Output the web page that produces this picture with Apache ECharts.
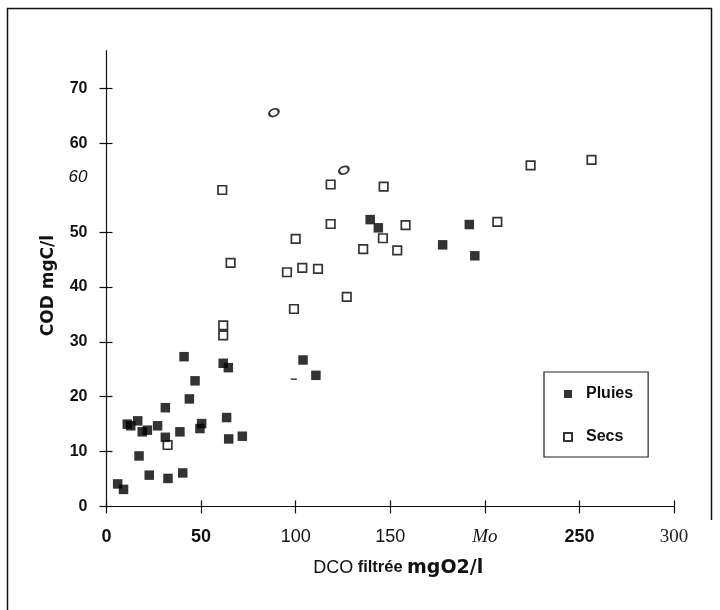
<!DOCTYPE html>
<html>
<head>
<meta charset="utf-8">
<title>COD / DCO filtrée</title>
<script src="https://cdn.jsdelivr.net/npm/echarts@6/dist/echarts.min.js"></script>
<style>
  html, body { margin: 0; padding: 0; background: #fff; }
  #chart { width: 720px; height: 610px; }
</style>
</head>
<body>
<div id="chart"></div>
<script>
// Rain-event samples (Pluies): [DCO filtrée mgO2/l, COD mgC/l]
const pluies = [
  [41.0, 27.3], [46.8, 22.9], [43.8, 19.6], [31.1, 18.0], [11.0, 15.0],
  [12.8, 14.7], [16.5, 15.6], [18.9, 13.6], [21.6, 13.9], [27.0, 14.7],
  [31.1, 12.6], [38.8, 13.6], [49.4, 14.2], [50.3, 15.1], [61.7, 26.1],
  [64.4, 25.3], [63.5, 16.2], [64.6, 12.3], [71.8, 12.8], [17.2, 9.2],
  [22.6, 5.7], [32.5, 5.1], [40.3, 6.1], [5.9, 4.1], [9.0, 3.1],
  [103.9, 26.7], [110.7, 23.9], [139.4, 52.3], [143.7, 50.8],
  [177.7, 47.7], [191.8, 51.4], [194.7, 45.7]
];

// Dry-weather samples (Secs)
const secs = [
  [32.3, 11.2], [61.7, 31.2], [61.7, 33.0], [65.6, 44.4], [61.2, 57.7],
  [118.5, 58.7], [146.5, 58.3], [118.5, 51.5], [158.1, 51.3], [146.1, 48.9],
  [100.0, 48.8], [135.7, 46.9], [153.7, 46.7], [95.4, 42.7], [103.5, 43.5],
  [111.8, 43.3], [127.0, 38.2], [99.1, 36.0], [224.2, 62.2], [256.4, 63.2],
  [206.6, 51.9]
];

// Dry-weather samples printed with a round mark
const secsRound = [[88.5, 71.8], [125.5, 61.3]];

// Stray dash mark
const dashMark = [[99.0, 23.2]];

// Axis ticks and their printed labels
const xTickLabels = ['0', '50', '100', '150', 'Mo', '250', '300'];
const xLabelStyle = ['b', 'b', 'r', 'r', 'it', 'b', 'serif'];
const yTickValues = [0, 10, 20, 30, 40, 50, 66.2, 76.2];
const yTickLabels = ['0', '10', '20', '30', '40', '50', '60', '70'];
const yExtraValue = 60;
const yExtraLabel = '60';

const ink = '#111';

const gridBox = { left: 106.5, right: 46, top: 50.7, bottom: 103.6 };
const gridW = 720 - gridBox.left - gridBox.right;
const gridH = 610 - gridBox.top - gridBox.bottom;

function yLabelFor(v) {
  if (Math.abs(v - yExtraValue) < 1e-6) return '{it|' + yExtraLabel + '}';
  for (let i = 0; i < yTickValues.length; i++) {
    if (Math.abs(v - yTickValues[i]) < 1e-6) return '{b|' + yTickLabels[i] + '}';
  }
  return '';
}

function xLabelFor(v) {
  const i = Math.round(v / 50);
  if (i < 0 || i >= xTickLabels.length) return '';
  return '{' + xLabelStyle[i] + '|' + xTickLabels[i] + '}';
}

const chart = echarts.init(document.getElementById('chart'), null, { renderer: 'canvas' });

const yLabelValues = yTickValues.slice(0, 6).concat([yExtraValue], yTickValues.slice(6));

// The second x / y axis sits on the same line from the opposite side,
// so together the ticks form small crosses.
const option = {
  animation: false,
  backgroundColor: '#fff',
  grid: Object.assign({ containLabel: false }, gridBox),
  legend: {
    orient: 'vertical',
    left: 544,
    top: 372,
    data: ['Pluies', 'Secs'],
    itemWidth: 8,
    itemHeight: 8,
    itemGap: 27,
    padding: [14, 15, 12, 19],
    borderColor: '#222',
    borderWidth: 1.2,
    textStyle: {
      fontFamily: 'Liberation Sans',
      fontSize: 16,
      fontWeight: 'bold',
      color: ink,
      lineHeight: 16,
      padding: [0, 0, 0, 9]
    }
  },
  xAxis: [
    {
      type: 'value',
      min: 0,
      max: 300,
      interval: 50,
      position: 'bottom',
      name: '{a|DCO} {b|filtrée} {c|mgO2/l}',
      nameLocation: 'middle',
      nameGap: 52,
      nameTextStyle: {
        padding: [0, 0, 0, 16],
        fontSize: 16,
        color: ink,
        rich: {
          a: { fontFamily: 'Liberation Sans', fontSize: 18, color: ink },
          b: { fontFamily: 'Liberation Sans', fontSize: 16.5, fontWeight: 'bold', color: ink },
          c: { fontFamily: 'DejaVu Sans', fontSize: 19, fontWeight: 'bold', color: ink }
        }
      },
      axisLine: { show: true, onZero: false, lineStyle: { color: ink, width: 1.2 } },
      axisTick: { show: true, length: 7, lineStyle: { color: ink, width: 1.2 } },
      splitLine: { show: false },
      axisLabel: {
        margin: 22,
        formatter: xLabelFor,
        rich: {
          b: { fontFamily: 'Liberation Sans', fontSize: 18, fontWeight: 'bold', color: ink, lineHeight: 18 },
          r: { fontFamily: 'Liberation Sans', fontSize: 18, color: ink, lineHeight: 18 },
          it: { fontFamily: 'Liberation Serif', fontSize: 19, fontStyle: 'italic', color: ink, lineHeight: 18 },
          serif: { fontFamily: 'Liberation Serif', fontSize: 19, color: '#222', lineHeight: 18 }
        }
      }
    },
    {
      type: 'value',
      min: 0,
      max: 300,
      interval: 50,
      position: 'top',
      offset: -gridH,
      axisLine: { show: false, onZero: false },
      axisTick: { show: true, length: 6, lineStyle: { color: ink, width: 1.2 } },
      axisLabel: { show: false },
      splitLine: { show: false }
    }
  ],
  yAxis: [
    {
      type: 'value',
      min: 0,
      max: 83.1,
      position: 'left',
      name: 'COD mgC/l',
      nameLocation: 'middle',
      nameRotate: 90,
      nameGap: 49,
      nameTextStyle: {
        fontFamily: 'DejaVu Sans',
        fontWeight: 'bold',
        fontSize: 17,
        color: ink,
        padding: [0, 14, 0, 0]
      },
      axisLine: { show: true, onZero: false, lineStyle: { color: ink, width: 1.2 } },
      axisTick: {
        show: true,
        length: 7,
        customValues: yTickValues,
        lineStyle: { color: ink, width: 1.2 }
      },
      splitLine: { show: false },
      axisLabel: {
        margin: 19,
        customValues: yLabelValues,
        formatter: yLabelFor,
        rich: {
          b: { fontFamily: 'Liberation Sans', fontSize: 16, fontWeight: 'bold', color: ink },
          it: { fontFamily: 'Liberation Sans', fontSize: 17, fontStyle: 'italic', color: ink }
        }
      }
    },
    {
      type: 'value',
      min: 0,
      max: 83.1,
      position: 'right',
      offset: -gridW,
      axisLine: { show: false, onZero: false },
      axisTick: {
        show: true,
        length: 6,
        customValues: yTickValues,
        lineStyle: { color: ink, width: 1.2 }
      },
      axisLabel: { show: false },
      splitLine: { show: false }
    }
  ],
  graphic: [
    {
      type: 'polyline',
      silent: true,
      shape: { points: [[7.5, 610], [7.5, 8.5], [711.5, 8.5], [711.5, 520]] },
      style: { stroke: ink, lineWidth: 1.5, fill: null }
    }
  ],
  series: [
    {
      name: 'Pluies',
      type: 'scatter',
      data: pluies,
      symbol: 'rect',
      symbolSize: 9.5,
      itemStyle: { color: '#000' },
      z: 3
    },
    {
      name: 'Secs',
      type: 'scatter',
      data: secs,
      symbol: 'rect',
      symbolSize: 8.5,
      itemStyle: { color: '#fff', borderColor: '#000', borderWidth: 1.7 },
      z: 2
    },
    {
      name: 'Secs (o)',
      type: 'scatter',
      xAxisIndex: 1,
      yAxisIndex: 1,
      data: secsRound,
      symbol: 'emptyCircle',
      symbolSize: [10, 7],
      symbolRotate: 25,
      itemStyle: { color: '#000', borderColor: '#000', borderWidth: 1.7 },
      z: 2
    },
    {
      name: 'dash',
      type: 'scatter',
      xAxisIndex: 1,
      yAxisIndex: 1,
      data: dashMark,
      symbol: 'rect',
      symbolSize: [6, 1.5],
      itemStyle: { color: '#000' },
      z: 2
    }
  ]
};

chart.setOption(option);
</script>
</body>
</html>
